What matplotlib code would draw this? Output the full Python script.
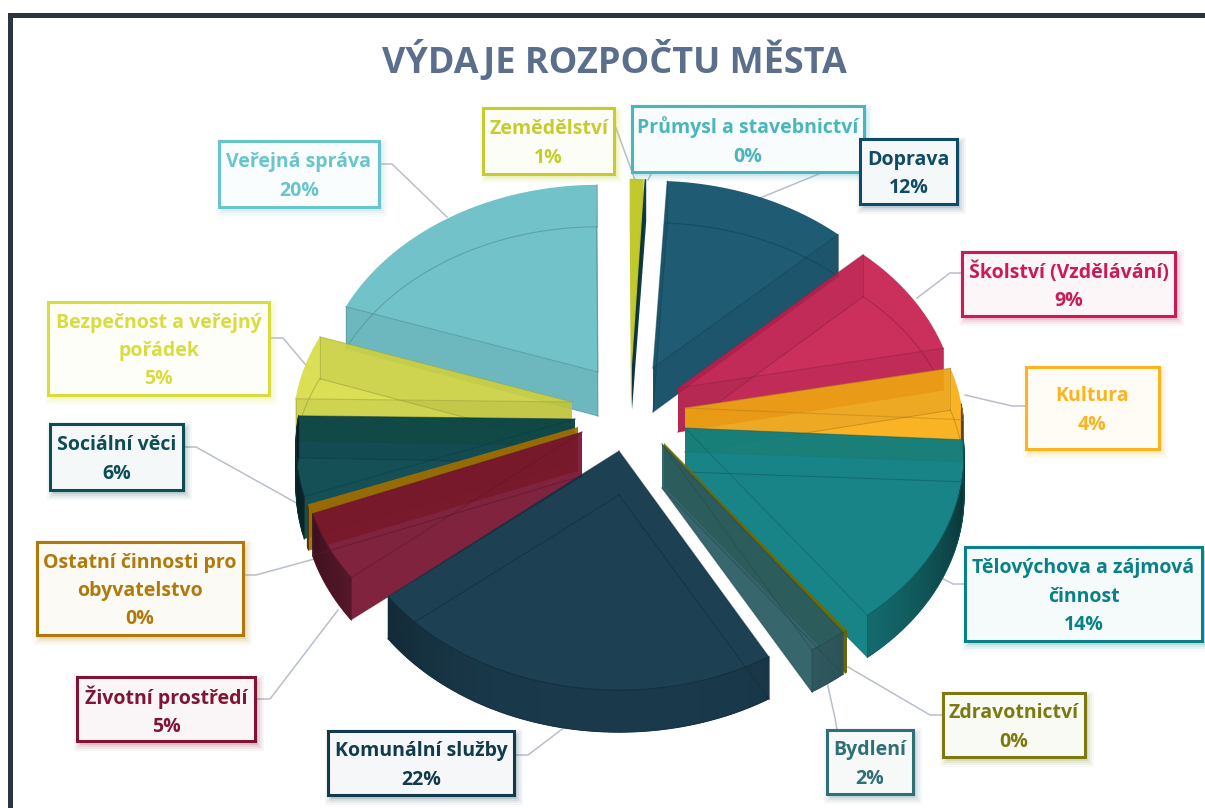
import numpy as np
import matplotlib
matplotlib.use("Agg")
import matplotlib.pyplot as plt
from matplotlib.patches import Polygon, Rectangle
from matplotlib.colors import to_rgb

plt.rcParams['font.family'] = ['Open Sans', 'DejaVu Sans']

# clockwise from the top of the pie
CATEGORIES = ["Zemědělství", "Průmysl a stavebnictví", "Doprava", "Školství (Vzdělávání)",
              "Kultura", "Tělovýchova a zájmová\nčinnost", "Zdravotnictví", "Bydlení",
              "Komunální služby", "Životní prostředí", "Ostatní činnosti pro\nobyvatelstvo",
              "Sociální věci", "Bezpečnost a veřejný\npořádek", "Veřejná správa"]
VALUES = [0.9, 0.1, 12, 9, 4, 14, 0.1, 2, 22, 5, 0.3, 6, 5, 19.7]
TITLE = "VÝDAJE ROZPOČTU MĚSTA"

FACE = ["#c3c92c", "#123f4c", "#1f5a72", "#cb2f5c", "#fbb325", "#188488", "#76760f",
        "#37666d", "#1c3f52", "#7f233e", "#a8780a", "#155057", "#dbdf55", "#72c3c9"]
LABEL_COL = ["#c6cc2e", "#4ab5bc", "#0f4a66", "#c91b54", "#fbb41f", "#0a8088", "#7a7a10",
             "#2f6f75", "#123a4d", "#7f1535", "#b07a0a", "#0d4d55", "#d8dc3f", "#69c4cc"]

# where the tip of each slice's top face sits (the pie is exploded by hand in the original)
TIPS = [(631, 366), (632, 366), (653, 368), (678, 388), (685, 408), (685, 428), (664, 443),
        (662, 444), (619, 451), (582, 432), (578, 427), (575, 419), (572, 402), (598, 372)]
BOXES = [(483, 108, 614, 174), (632, 106, 864, 172), (860, 139, 957, 204), (962, 252, 1175, 316),
         (1026, 367, 1159, 449), (965, 547, 1202, 641), (943, 693, 1085, 757), (827, 730, 913, 794),
         (328, 731, 514, 795), (77, 677, 255, 741), (37, 542, 243, 635), (50, 424, 183, 490),
         (48, 302, 269, 395), (219, 141, 379, 207)]
LEADERS = [[(616, 128), (635, 180)], [(652, 172), (648, 180)], [(860, 162), (848, 162), (760, 198)],
           [(962, 273), (950, 273), (917, 298)], [(1026, 406), (1012, 406), (965, 395)],
           [(965, 584), (953, 584), (936, 575)], [(943, 715), (930, 715), (848, 667)],
           [(827, 682), (835, 718), (837, 730)], [(514, 755), (528, 755), (565, 727)],
           [(255, 699), (270, 699), (338, 610)], [(243, 575), (256, 575), (318, 558)],
           [(183, 447), (196, 447), (300, 505)], [(269, 338), (283, 338), (310, 370)],
           [(379, 164), (392, 164), (447, 217)]]
# back to front
DRAW_ORDER = [13, 0, 1, 2, 12, 3, 11, 4, 10, 9, 5, 6, 7, 8]

RX, RY, PERSP = 277.0, 210.0, 0.122
START = -0.3
ALPHA = 0.93


def project(theta, r, tip, lower=False):
    u, v = r * np.sin(theta), r * np.cos(theta)
    den = 1 + PERSP * v
    x = tip[0] + RX * u / den
    y = tip[1] - RY * v / den
    if lower:
        y = y + 44 - 2 * r
    return np.column_stack([x, y])


def shade(col, f):
    return tuple(c * f for c in to_rgb(col))


def hull(points):
    pts = sorted(map(tuple, points))
    def half(seq):
        out = []
        for p in seq:
            while len(out) > 1:
                a, b = out[-2], out[-1]
                if (b[0] - a[0]) * (p[1] - a[1]) - (b[1] - a[1]) * (p[0] - a[0]) <= 0:
                    out.pop()
                else:
                    break
            out.append(p)
        return out[:-1]
    return np.array(half(pts) + half(pts[::-1]))


def draw_slice(ax, a0, a1, col, tip, z):
    n = max(int(np.degrees(a1 - a0) / 0.6), 2) + 1
    th = np.linspace(a0, a1, n)
    top = project(th, 1, tip)
    bot = project(th, 1, tip, True)
    tip_t = project(np.array([0.0]), 0, tip)
    tip_b = project(np.array([0.0]), 0, tip, True)
    line = shade(col, 0.72)
    # translucent body, colour corrected so it reads as `col` over white
    body = tuple(max(0, (c - (1 - ALPHA)) / ALPHA) for c in to_rgb(col))
    ax.add_patch(Polygon(hull(np.vstack([tip_t, tip_b, top, bot])), fc=body, ec='none',
                         alpha=ALPHA, zorder=z))
    # cut walls facing us are a bit darker
    for k in (0, -1):
        if np.cos(th[k]) > 0:
            wall = np.vstack([tip_t, top[k], bot[k], tip_b])
            ax.add_patch(Polygon(wall, fc='black', ec='none', alpha=0.05, zorder=z))
    # outer wall, only the part facing us, shaded towards the silhouette
    front = np.cos(th) < 0.02
    for i in range(n - 1):
        mid = (th[i] + th[i + 1]) / 2
        if np.cos(mid) < 0.02:
            f = 0.92 - 0.55 * abs(np.sin(mid)) ** 3
            quad = np.vstack([top[i], top[i + 1], bot[i + 1], bot[i]])
            ax.add_patch(Polygon(quad, fc=shade(col, f), ec=shade(col, f), lw=0.5, zorder=z))
    # thin slivers are just a colour strip
    if a1 - a0 < 0.1:
        return
    # edges show through the translucent faces
    ax.plot(bot[:, 0], bot[:, 1], color=line, lw=0.8, alpha=0.6, zorder=z)
    if front.any():
        ax.plot(top[front, 0], top[front, 1], color=line, lw=0.8, alpha=0.7, zorder=z)
    for k in (0, -1):
        ax.plot([tip_b[0, 0], bot[k, 0]], [tip_b[0, 1], bot[k, 1]], color=line, lw=0.8, alpha=0.6, zorder=z)
        ax.plot([tip_t[0, 0], top[k, 0]], [tip_t[0, 1], top[k, 1]], color=line, lw=0.8, alpha=0.5, zorder=z)
        ax.plot([top[k, 0], bot[k, 0]], [top[k, 1], bot[k, 1]], color=line, lw=0.7, alpha=0.5, zorder=z)


def draw_label(ax, box, col, text):
    x0, y0, x1, y1 = box
    # soft shadow
    for grow, a in ((6, 0.04), (4, 0.06), (2, 0.08), (0, 0.12)):
        ax.add_patch(Rectangle((x0 + 3 - grow, y0 + 4 - grow), x1 - x0 + 2 * grow, y1 - y0 + 2 * grow,
                               fc=col, ec='none', alpha=a, zorder=96))
    fill = tuple(0.96 + 0.04 * c for c in to_rgb(col))
    ax.add_patch(Rectangle((x0, y0), x1 - x0, y1 - y0, fc=fill, ec=col, lw=2.2, zorder=97))
    ax.text((x0 + x1) / 2, (y0 + y1) / 2 + 2.5, text, color=col, fontsize=14, fontweight='bold',
            ha='center', va='center', linespacing=1.56, zorder=98)


fig = plt.figure(figsize=(12.05, 8.08), dpi=100)
ax = fig.add_axes([0, 0, 1, 1])
ax.set_xlim(0, 1205)
ax.set_ylim(808, 0)
ax.axis('off')

# dark window frame
ax.add_patch(Rectangle((8, 13), 1197, 5, fc="#2b3540", ec='none'))
ax.add_patch(Rectangle((8, 13), 5, 795, fc="#2b3540", ec='none'))

ax.text(614, 62, TITLE, color="#5b6f8c", fontsize=25.9, fontweight='bold', ha='center', va='center')

total = sum(VALUES)
edges = np.radians(START + np.cumsum([0] + VALUES) / total * 360)

for pts in LEADERS:
    xs, ys = zip(*pts)
    ax.plot(xs, ys, color="#b8bfcc", lw=1.1, zorder=0.5)

for z, i in enumerate(DRAW_ORDER):
    draw_slice(ax, edges[i], edges[i + 1], FACE[i], TIPS[i], z + 1)

for i in range(len(CATEGORIES)):
    draw_label(ax, BOXES[i], LABEL_COL[i], f"{CATEGORIES[i]}\n{round(VALUES[i])}%")

fig.savefig("out.png", dpi=100)
